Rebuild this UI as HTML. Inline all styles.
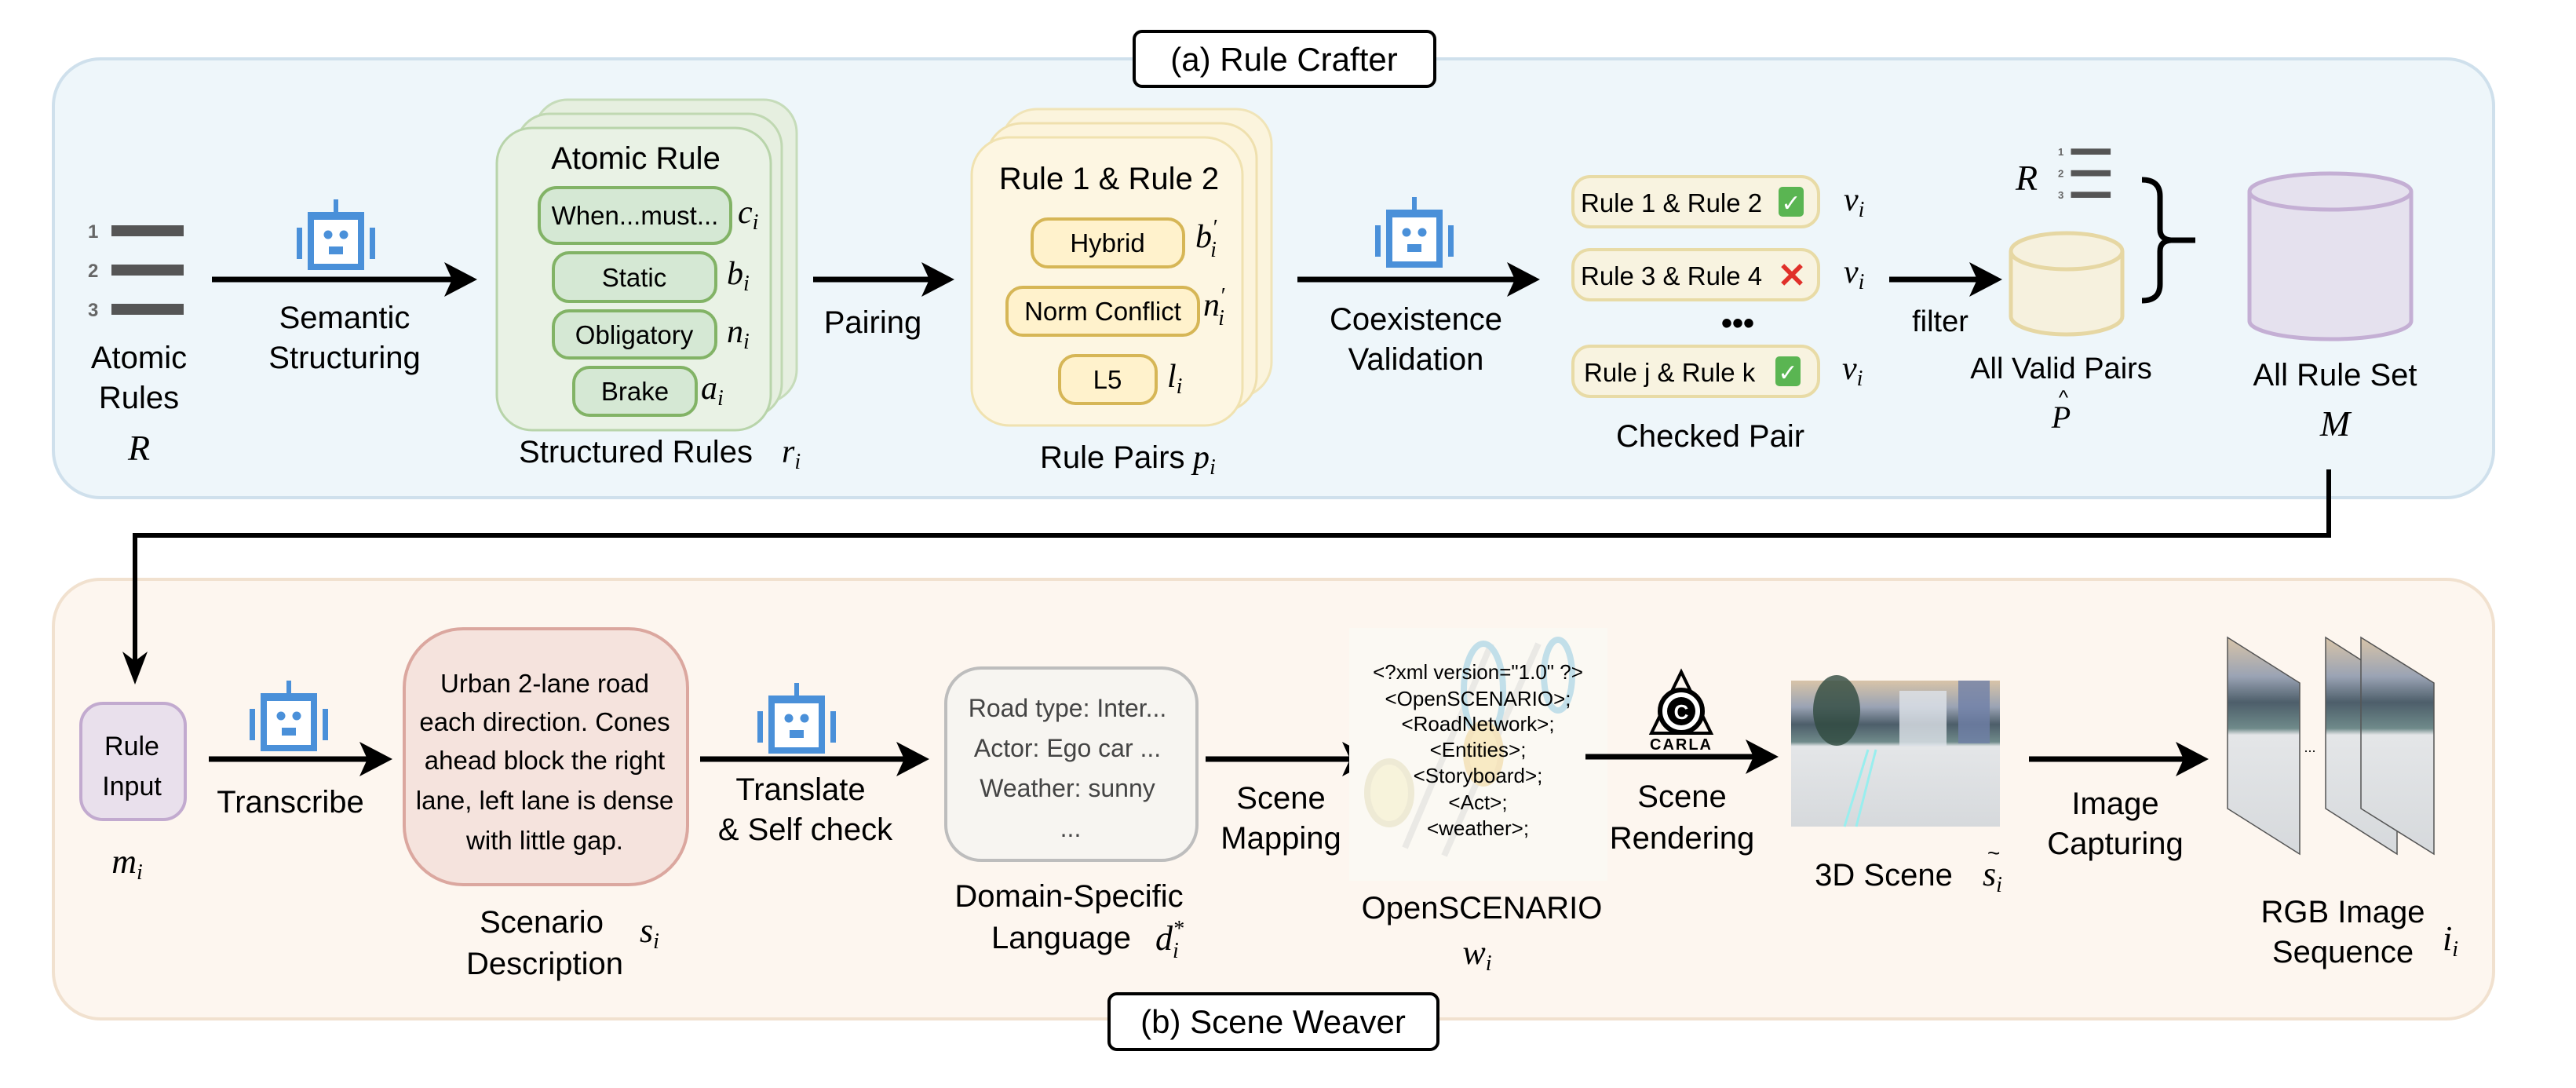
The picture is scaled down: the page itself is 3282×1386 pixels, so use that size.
<!DOCTYPE html>
<html><head><meta charset="utf-8"><style>
html,body{margin:0;padding:0;background:#fff;}
svg{display:block;}
text{font-family:"Liberation Sans",sans-serif;fill:#000;}
.m{font-family:"Liberation Serif",serif;font-style:italic;}
</style></head><body>
<svg width="3282" height="1386" viewBox="0 0 3282 1386" xmlns="http://www.w3.org/2000/svg">
<defs>
<g id="robot">
<rect x="47" y="0" width="6" height="18" fill="#4a90d9"/>
<rect x="14" y="16" width="72" height="74" fill="#4a90d9"/>
<rect x="22" y="26" width="56" height="56" fill="#fff"/>
<circle cx="40" cy="45" r="5.5" fill="#4a90d9"/>
<circle cx="60" cy="45" r="5.5" fill="#4a90d9"/>
<rect x="41" y="60" width="18" height="10" fill="#4a90d9"/>
<rect x="0" y="36" width="7" height="40" fill="#4a90d9"/>
<rect x="93" y="36" width="7" height="40" fill="#4a90d9"/>
</g>
<g id="list">
<text x="0" y="22" font-size="24" font-weight="bold" fill="#666" style="fill:#666">1</text>
<rect x="30" y="6" width="92" height="14" fill="#555"/>
<text x="0" y="72" font-size="24" font-weight="bold" style="fill:#666">2</text>
<rect x="30" y="56" width="92" height="14" fill="#555"/>
<text x="0" y="122" font-size="24" font-weight="bold" style="fill:#666">3</text>
<rect x="30" y="106" width="92" height="14" fill="#555"/>
</g>
<linearGradient id="scene" x1="0" y1="0" x2="0" y2="1">
<stop offset="0" stop-color="#d8c4a8"/><stop offset="0.18" stop-color="#9aa3b4"/>
<stop offset="0.3" stop-color="#4d5e6a"/><stop offset="0.42" stop-color="#6f8a8a"/>
<stop offset="0.45" stop-color="#e4e6e8"/><stop offset="1" stop-color="#d6d9dc"/>
</linearGradient>
</defs>

<!-- Top panel -->
<rect x="68" y="75" width="3109" height="559" rx="60" fill="#eef6fa" stroke="#cfe0ec" stroke-width="4"/>
<rect x="1445" y="40" width="383" height="70" rx="10" fill="#fff" stroke="#000" stroke-width="4"/>
<text x="1636" y="90" font-size="42" text-anchor="middle">(a) Rule Crafter</text>

<!-- Bottom panel -->
<rect x="68" y="738" width="3109" height="560" rx="60" fill="#fdf6ef" stroke="#f1e1cf" stroke-width="4"/>

<!-- connector -->
<polyline points="2967,598 2967,682 172,682 172,845" fill="none" stroke="#000" stroke-width="6"/>
<polygon points="172,872 156,830 172,842 188,830" fill="#000"/>

<!-- bottom title -->
<rect x="1413" y="1266" width="419" height="71" rx="10" fill="#fff" stroke="#000" stroke-width="4"/>
<text x="1622" y="1316" font-size="42" text-anchor="middle">(b) Scene Weaver</text>

<!-- Atomic rules -->
<use href="#list" x="112" y="281"/>
<text x="177" y="469" font-size="40" text-anchor="middle">Atomic</text>
<text x="177" y="520" font-size="40" text-anchor="middle">Rules</text>
<text x="177" y="586" font-size="46" class="m" text-anchor="middle">R</text>

<use href="#robot" x="378" y="254"/>
<line x1="270" y1="356" x2="580" y2="356" stroke="#000" stroke-width="7"/>
<polygon points="608,356 566,334 576,356 566,378" fill="#000"/>
<text x="439" y="418" font-size="40" text-anchor="middle">Semantic</text>
<text x="439" y="469" font-size="40" text-anchor="middle">Structuring</text>

<!-- green cards -->
<rect x="681" y="127" width="334" height="386" rx="42" fill="#e6efe0" stroke="#c6dcba" stroke-width="3"/>
<rect x="658" y="145" width="338" height="386" rx="42" fill="#e6efe0" stroke="#c0d8b2" stroke-width="3"/>
<rect x="633" y="163" width="349" height="385" rx="45" fill="#e9f2e5" stroke="#b8d4aa" stroke-width="3"/>
<text x="810" y="215" font-size="40" text-anchor="middle">Atomic Rule</text>
<rect x="687" y="239" width="244" height="71" rx="22" fill="#d5e8d4" stroke="#82b366" stroke-width="4"/>
<text x="809" y="286" font-size="33" text-anchor="middle">When...must...</text>
<text x="940" y="284" font-size="42" class="m">c<tspan font-size="28" dy="8">i</tspan></text>
<rect x="705" y="322" width="207" height="62" rx="20" fill="#d5e8d4" stroke="#82b366" stroke-width="4"/>
<text x="808" y="365" font-size="33" text-anchor="middle">Static</text>
<text x="926" y="362" font-size="42" class="m">b<tspan font-size="28" dy="8">i</tspan></text>
<rect x="705" y="396" width="207" height="60" rx="20" fill="#d5e8d4" stroke="#82b366" stroke-width="4"/>
<text x="808" y="438" font-size="33" text-anchor="middle">Obligatory</text>
<text x="926" y="436" font-size="42" class="m">n<tspan font-size="28" dy="8">i</tspan></text>
<rect x="731" y="468" width="156" height="61" rx="20" fill="#d5e8d4" stroke="#82b366" stroke-width="4"/>
<text x="809" y="510" font-size="33" text-anchor="middle">Brake</text>
<text x="893" y="508" font-size="42" class="m">a<tspan font-size="28" dy="8">i</tspan></text>
<text x="810" y="589" font-size="40" text-anchor="middle">Structured Rules</text>
<text x="996" y="589" font-size="42" class="m">r<tspan font-size="28" dy="8">i</tspan></text>

<line x1="1036" y1="356" x2="1190" y2="356" stroke="#000" stroke-width="7"/>
<polygon points="1216,356 1174,334 1184,356 1174,378" fill="#000"/>
<text x="1112" y="424" font-size="40" text-anchor="middle">Pairing</text>

<!-- yellow cards -->
<rect x="1276" y="139" width="344" height="367" rx="45" fill="#fbf4dd" stroke="#f0e4b8" stroke-width="3"/>
<rect x="1257" y="157" width="344" height="367" rx="45" fill="#fcf4dc" stroke="#efe0ae" stroke-width="3"/>
<rect x="1238" y="175" width="345" height="367" rx="48" fill="#fdf6e2" stroke="#f0e2b0" stroke-width="3"/>
<text x="1413" y="241" font-size="40" text-anchor="middle">Rule 1 &amp; Rule 2</text>
<rect x="1315" y="279" width="193" height="61" rx="20" fill="#fff2cc" stroke="#d6b656" stroke-width="4"/>
<text x="1411" y="321" font-size="33" text-anchor="middle">Hybrid</text>
<text x="1523" y="315" font-size="42" class="m">b<tspan font-size="28" dy="-16">′</tspan><tspan font-size="28" dx="-8" dy="28">i</tspan></text>
<rect x="1283" y="366" width="244" height="61" rx="20" fill="#fff2cc" stroke="#d6b656" stroke-width="4"/>
<text x="1405" y="408" font-size="33" text-anchor="middle">Norm Conflict</text>
<text x="1533" y="402" font-size="42" class="m">n<tspan font-size="28" dy="-16">′</tspan><tspan font-size="28" dx="-8" dy="28">i</tspan></text>
<rect x="1350" y="453" width="123" height="61" rx="20" fill="#fff2cc" stroke="#d6b656" stroke-width="4"/>
<text x="1411" y="495" font-size="33" text-anchor="middle">L5</text>
<text x="1487" y="493" font-size="42" class="m">l<tspan font-size="28" dy="8">i</tspan></text>
<text x="1325" y="596" font-size="40">Rule Pairs</text>
<text x="1520" y="596" font-size="42" class="m">p<tspan font-size="28" dy="8">i</tspan></text>

<!-- coexistence -->
<use href="#robot" x="1752" y="251"/>
<line x1="1653" y1="356" x2="1935" y2="356" stroke="#000" stroke-width="7"/>
<polygon points="1962,356 1920,334 1930,356 1920,378" fill="#000"/>
<text x="1804" y="420" font-size="40" text-anchor="middle">Coexistence</text>
<text x="1804" y="471" font-size="40" text-anchor="middle">Validation</text>

<rect x="2004" y="225" width="313" height="64" rx="22" fill="#f8f3e0" stroke="#e8dba6" stroke-width="4"/>
<text x="2014" y="270" font-size="33">Rule 1 &amp; Rule 2</text>
<rect x="2266" y="238" width="32" height="38" rx="5" fill="#5ab552"/><text x="2282" y="269" font-size="30" text-anchor="middle" style="fill:#fff">✓</text>
<rect x="2004" y="318" width="313" height="64" rx="22" fill="#f8f3e0" stroke="#e8dba6" stroke-width="4"/>
<text x="2014" y="363" font-size="33">Rule 3 &amp; Rule 4</text>
<text x="2283" y="366" font-size="44" font-weight="bold" text-anchor="middle" style="fill:#e0302a">✕</text>
<text x="2214" y="425" font-size="40" font-weight="bold" text-anchor="middle">•••</text>
<rect x="2004" y="441" width="313" height="64" rx="22" fill="#f8f3e0" stroke="#e8dba6" stroke-width="4"/>
<text x="2018" y="486" font-size="33">Rule j &amp; Rule k</text>
<rect x="2262" y="454" width="32" height="38" rx="5" fill="#5ab552"/><text x="2278" y="485" font-size="30" text-anchor="middle" style="fill:#fff">✓</text>
<text x="2349" y="268" font-size="42" class="m">v<tspan font-size="28" dy="8">i</tspan></text>
<text x="2349" y="360" font-size="42" class="m">v<tspan font-size="28" dy="8">i</tspan></text>
<text x="2347" y="483" font-size="42" class="m">v<tspan font-size="28" dy="8">i</tspan></text>
<text x="2179" y="569" font-size="40" text-anchor="middle">Checked Pair</text>

<line x1="2407" y1="356" x2="2525" y2="356" stroke="#000" stroke-width="7"/>
<polygon points="2551,356 2509,334 2519,356 2509,378" fill="#000"/>
<text x="2472" y="422" font-size="38" text-anchor="middle">filter</text>

<!-- small cylinder -->
<path d="M2562,320 L2562,403 A71,23 0 0 0 2704,403 L2704,320" fill="#f6f1de" stroke="#e6d7a3" stroke-width="5"/>
<ellipse cx="2633" cy="320" rx="71" ry="23" fill="#f6f1de" stroke="#e6d7a3" stroke-width="5"/>
<text x="2582" y="242" font-size="46" class="m" text-anchor="middle">R</text>
<g transform="translate(2622,186) scale(0.55)"><use href="#list"/></g>
<path d="M2729,229 Q2752,229 2752,250 L2752,292 Q2752,305 2766,306 L2797,306 M2766,306 Q2752,307 2752,320 L2752,362 Q2752,383 2729,383" fill="none" stroke="#000" stroke-width="7"/>
<text x="2626" y="482" font-size="38" text-anchor="middle">All Valid Pairs</text>
<text x="2626" y="545" font-size="40" class="m" text-anchor="middle">P</text>
<text x="2629" y="515" font-size="26" text-anchor="middle">^</text>

<!-- big cylinder -->
<path d="M2866,244 L2866,409 A103,23 0 0 0 3072,409 L3072,244" fill="#e5e1ee" stroke="#c4afd4" stroke-width="5"/>
<ellipse cx="2969" cy="244" rx="103" ry="23" fill="#e5e1ee" stroke="#c4afd4" stroke-width="5"/>
<text x="2975" y="491" font-size="40" text-anchor="middle">All Rule Set</text>
<text x="2975" y="555" font-size="46" class="m" text-anchor="middle">M</text>

<!-- Bottom row -->
<rect x="103" y="896" width="133" height="148" rx="28" fill="#e9e0ec" stroke="#c2aacf" stroke-width="4"/>
<text x="168" y="962" font-size="34" text-anchor="middle">Rule</text>
<text x="168" y="1013" font-size="34" text-anchor="middle">Input</text>
<text x="162" y="1112" font-size="44" class="m" text-anchor="middle">m<tspan font-size="28" dy="8">i</tspan></text>

<use href="#robot" x="318" y="867"/>
<line x1="266" y1="967" x2="475" y2="967" stroke="#000" stroke-width="7"/>
<polygon points="500,967 458,945 468,967 458,989" fill="#000"/>
<text x="370" y="1035" font-size="40" text-anchor="middle">Transcribe</text>

<rect x="515" y="801" width="361" height="326" rx="75" fill="#f5e3dd" stroke="#dba79f" stroke-width="4"/>
<g font-size="33" text-anchor="middle">
<text x="694" y="882">Urban 2-lane road</text>
<text x="694" y="931">each direction. Cones</text>
<text x="694" y="980">ahead block the right</text>
<text x="694" y="1031">lane, left lane is dense</text>
<text x="694" y="1082">with little gap.</text>
</g>
<text x="690" y="1188" font-size="40" text-anchor="middle">Scenario</text>
<text x="694" y="1241" font-size="40" text-anchor="middle">Description</text>
<text x="815" y="1200" font-size="44" class="m">s<tspan font-size="28" dy="8">i</tspan></text>

<use href="#robot" x="965" y="870"/>
<line x1="892" y1="967" x2="1158" y2="967" stroke="#000" stroke-width="7"/>
<polygon points="1184,967 1142,945 1152,967 1142,989" fill="#000"/>
<text x="1020" y="1019" font-size="40" text-anchor="middle">Translate</text>
<text x="1026" y="1070" font-size="40" text-anchor="middle">&amp; Self check</text>

<rect x="1205" y="851" width="320" height="245" rx="45" fill="#f7f5f1" stroke="#bdbdbd" stroke-width="4"/>
<g font-size="32" text-anchor="middle" style="fill:#444">
<text x="1360" y="913" style="fill:#444">Road type: Inter...</text>
<text x="1360" y="964" style="fill:#444">Actor: Ego car ...</text>
<text x="1360" y="1015" style="fill:#444">Weather: sunny</text>
<text x="1364" y="1066" style="fill:#444">...</text>
</g>
<text x="1362" y="1155" font-size="40" text-anchor="middle">Domain-Specific</text>
<text x="1352" y="1208" font-size="40" text-anchor="middle">Language</text>
<text x="1472" y="1210" font-size="44" class="m">d<tspan font-size="28" dy="-18">*</tspan><tspan font-size="28" dx="-14" dy="28">i</tspan></text>

<line x1="1536" y1="967" x2="1725" y2="967" stroke="#000" stroke-width="7"/>
<polygon points="1752,967 1710,945 1720,967 1710,989" fill="#000"/>
<text x="1632" y="1030" font-size="40" text-anchor="middle">Scene</text>
<text x="1632" y="1081" font-size="40" text-anchor="middle">Mapping</text>

<!-- OpenSCENARIO image -->
<rect x="1719" y="800" width="329" height="322" fill="#fbf9f3"/>
<g opacity="0.35" fill="none" stroke-width="8">
<path d="M1790,1080 L1900,820" stroke="#ccc"/>
<path d="M1840,1090 L1960,820" stroke="#ccc"/>
<ellipse cx="1890" cy="880" rx="25" ry="60" stroke="#5ab0d8"/>
<ellipse cx="1985" cy="860" rx="18" ry="45" stroke="#5ab0d8"/>
<ellipse cx="1770" cy="1010" rx="28" ry="40" stroke="#d8cfa0" fill="#f0e8b0"/>
<ellipse cx="1890" cy="960" rx="22" ry="38" stroke="#e8c060" fill="#f5d070"/>
</g>
<g font-size="26" text-anchor="middle">
<text x="1883" y="865">&lt;?xml version="1.0" ?&gt;</text>
<text x="1883" y="899">&lt;OpenSCENARIO&gt;;</text>
<text x="1883" y="931">&lt;RoadNetwork&gt;;</text>
<text x="1883" y="964">&lt;Entities&gt;;</text>
<text x="1883" y="997">&lt;Storyboard&gt;;</text>
<text x="1883" y="1031">&lt;Act&gt;;</text>
<text x="1883" y="1064">&lt;weather&gt;;</text>
</g>
<text x="1888" y="1170" font-size="40" text-anchor="middle">OpenSCENARIO</text>
<text x="1882" y="1228" font-size="44" class="m" text-anchor="middle">w<tspan font-size="28" dy="8">i</tspan></text>

<!-- CARLA logo -->
<polygon points="2142,856 2104,934 2180,934" fill="none" stroke="#000" stroke-width="4"/>
<circle cx="2142" cy="906" r="27" fill="#fff" stroke="#000" stroke-width="6"/>
<circle cx="2142" cy="906" r="18" fill="#000"/>
<text x="2142" y="916" font-size="26" font-weight="bold" text-anchor="middle" style="fill:#fff">C</text>
<text x="2142" y="955" font-size="20" font-weight="bold" text-anchor="middle" letter-spacing="2">CARLA</text>

<line x1="2020" y1="964" x2="2240" y2="964" stroke="#000" stroke-width="7"/>
<polygon points="2266,964 2224,942 2234,964 2224,986" fill="#000"/>
<text x="2143" y="1028" font-size="40" text-anchor="middle">Scene</text>
<text x="2143" y="1081" font-size="40" text-anchor="middle">Rendering</text>

<!-- 3D scene -->
<rect x="2282" y="867" width="266" height="186" fill="url(#scene)"/>
<rect x="2420" y="880" width="60" height="70" fill="#dfe3ea" opacity="0.8"/>
<rect x="2495" y="867" width="40" height="80" fill="#6f7fa8" opacity="0.8"/>
<ellipse cx="2340" cy="905" rx="30" ry="45" fill="#2f4a3f" opacity="0.8"/>
<path d="M2350,1053 L2380,955 M2365,1053 L2390,955" stroke="#9ee" stroke-width="3"/>
<text x="2400" y="1128" font-size="40" text-anchor="middle">3D Scene</text>
<text x="2526" y="1128" font-size="44" class="m">s<tspan font-size="28" dy="8">i</tspan></text>
<text x="2532" y="1096" font-size="28">~</text>

<line x1="2585" y1="967" x2="2788" y2="967" stroke="#000" stroke-width="7"/>
<polygon points="2814,967 2772,945 2782,967 2772,989" fill="#000"/>
<text x="2695" y="1037" font-size="40" text-anchor="middle">Image</text>
<text x="2695" y="1088" font-size="40" text-anchor="middle">Capturing</text>

<!-- frames -->
<polygon points="2838,812 2930,870 2930,1088 2838,1030" fill="url(#scene)" stroke="#555" stroke-width="1.5"/>
<polygon points="2963,812 3054,870 3054,1088 2963,1030" fill="url(#scene)" stroke="#555" stroke-width="1.5"/>
<polygon points="3008,812 3101,870 3101,1088 3008,1030" fill="url(#scene)" stroke="#555" stroke-width="1.5"/>
<text x="2943" y="958" font-size="18" text-anchor="middle">...</text>
<text x="2985" y="1175" font-size="40" text-anchor="middle">RGB Image</text>
<text x="2985" y="1226" font-size="40" text-anchor="middle">Sequence</text>
<text x="3112" y="1210" font-size="44" class="m">i<tspan font-size="28" dy="8">i</tspan></text>
</svg>
</body></html>
